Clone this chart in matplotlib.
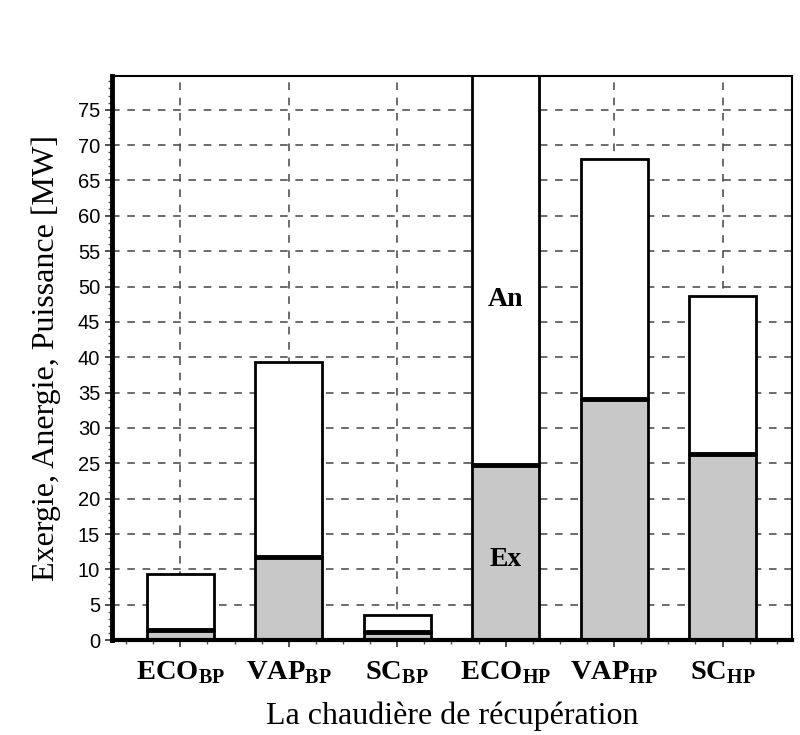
import numpy as np
import matplotlib.pyplot as plt
from matplotlib.ticker import MultipleLocator

# --- Data ---
categories = ['ECO', 'VAP', 'SC', 'ECO', 'VAP', 'SC']
subscripts = ['BP', 'BP', 'BP', 'HP', 'HP', 'HP']
exergie = [1.5, 11.8, 1.1, 24.7, 34.1, 26.3]
puissance = [9.4, 39.3, 3.6, 82.0, 68.0, 48.7]   # ECO_HP runs off the top
anergie = [p - e for p, e in zip(puissance, exergie)]

serif = 'Liberation Serif'
sans = 'Liberation Sans'

fig = plt.figure(figsize=(8, 7.35), dpi=100)
ax = fig.add_axes([0.14, 0.129, 0.85, 0.768])

x = np.arange(len(categories))
width = 0.62

# Exergie (gray) + Anergie (white) stacked
ax.bar(x, exergie, width, color='#c8c8c8', edgecolor='black', linewidth=2, zorder=2)
ax.bar(x, anergie, width, bottom=exergie, color='white', edgecolor='black',
       linewidth=2, zorder=2)
# thick separator between Ex and An
ax.hlines(exergie, x - width / 2, x + width / 2, colors='black', linewidth=3.5, zorder=3)

ax.set_xlim(-0.63, 5.64)
ax.set_ylim(0, 79.8)

# ticks
ax.set_xticks(x)
ax.set_xticklabels([f'{c}$_\\mathregular{{{s}}}$' for c, s in zip(categories, subscripts)],
                   fontfamily=serif, fontweight='bold', fontsize=20.5)
ax.xaxis.set_minor_locator(MultipleLocator(0.25))
ax.set_yticks(np.arange(0, 80, 5))
ax.yaxis.set_minor_locator(MultipleLocator(1))
for lbl in ax.get_yticklabels():
    lbl.set_fontfamily(sans)
    lbl.set_fontsize(14.5)
ax.tick_params(axis='both', which='major', direction='out', length=5, width=1.2, color='#333333')
ax.tick_params(axis='both', which='minor', direction='out', length=3, width=1, color='#555555')
ax.tick_params(axis='x', which='major', pad=9)

# grid
ax.grid(True, which='major', linestyle=(0, (5, 5)), color='#444444', linewidth=1.1)
ax.set_axisbelow(True)

# spines
ax.spines['left'].set_linewidth(3.5)
ax.spines['bottom'].set_linewidth(3)
ax.spines['top'].set_linewidth(1.5)
ax.spines['right'].set_linewidth(1.5)

ax.set_ylabel('Exergie, Anergie, Puissance [MW]', fontfamily=serif, fontsize=23, labelpad=12)
ax.set_xlabel('La chaudière de récupération', fontfamily=serif, fontsize=23, labelpad=11)

# labels inside ECO_HP bar
ax.text(x[3], 48.1, 'An', ha='center', va='center', fontfamily=serif,
        fontweight='bold', fontsize=20, zorder=4)
ax.text(x[3], 11.4, 'Ex', ha='center', va='center', fontfamily=serif,
        fontweight='bold', fontsize=20, zorder=4)

fig.savefig('out.png', dpi=100)
